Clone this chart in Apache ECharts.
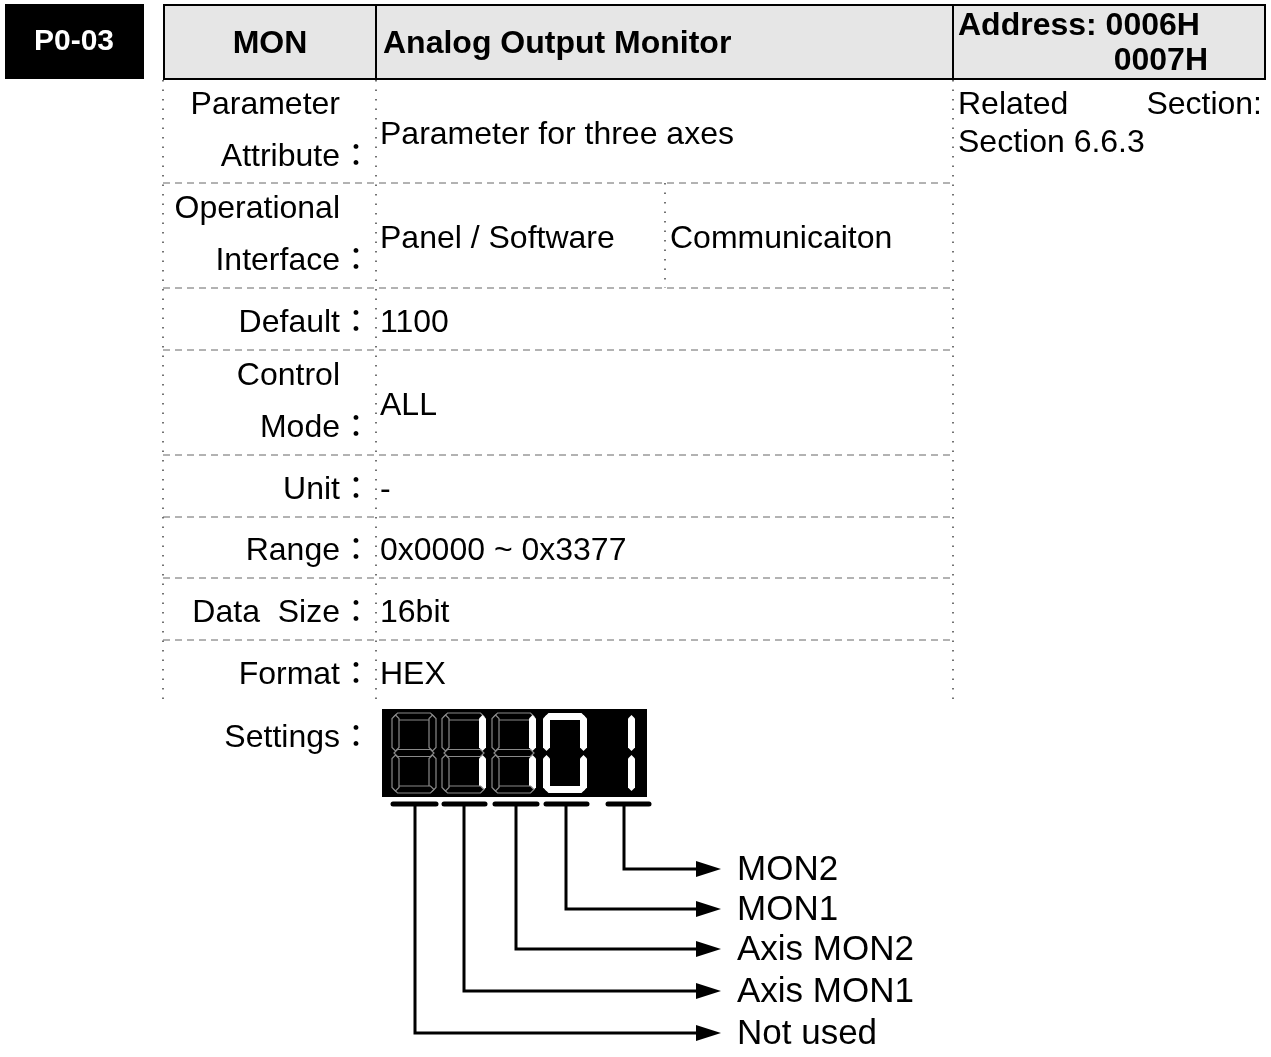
<!DOCTYPE html>
<html>
<head>
<meta charset="utf-8">
<script src="https://cdn.jsdelivr.net/npm/echarts@6/dist/echarts.min.js"></script>
<style>html,body{margin:0;padding:0;background:#fff;}#main{width:1271px;height:1057px;}</style>
</head>
<body>
<div id="main"></div>
<script>
// ---- content ----
const paramCode = 'P0-03';
const paramName = 'MON';
const paramTitle = 'Analog Output Monitor';
const addressLines = ['Address: 0006H', '0007H'];
const rowLabels = [['Parameter', 'Attribute：'], ['Operational', 'Interface：'], ['Default：'], ['Control', 'Mode：'], ['Unit：'], ['Range：'], ['Data  Size：'], ['Format：']];
const rowValues = ['Parameter for three axes', 'Panel / Software', '1100', 'ALL', '-', '0x0000 ~ 0x3377', '16bit', 'HEX'];
const interfaceExtra = 'Communicaiton';
const relatedSection = ['Related', 'Section:', 'Section 6.6.3'];
const settingsLabel = 'Settings：';
const digitLit = [[], ['b', 'c'], ['b', 'c'], ['a', 'b', 'c', 'd', 'e', 'f'], ['b', 'c']];
const digitGhost = [true, true, true, false, false];
const monitorLabels = ['MON2', 'MON1', 'Axis MON2', 'Axis MON1', 'Not used'];

// ---- layout ----
const FONT = '"Liberation Sans", Arial, "Noto Sans CJK JP", sans-serif';
const rowEdges = [80, 183, 288, 350, 455, 517, 578, 640, 702];
const colL = 163, colM = 376, colR = 953, colX = 665;
const g = [];
const headFont = 'bold 32px ' + FONT;

// black code box
g.push({type: 'rect', shape: {x: 5, y: 4, width: 139, height: 75}, style: {fill: '#000'}});
g.push({type: 'text', x: 74, y: 42, style: {text: paramCode, font: 'bold 30px ' + FONT, fill: '#fff', align: 'center', verticalAlign: 'middle'}});
// header
g.push({type: 'rect', shape: {x: 164, y: 5, width: 1101, height: 74}, style: {fill: '#e6e6e6', stroke: '#000', lineWidth: 2}});
g.push({type: 'line', shape: {x1: colM, y1: 5, x2: colM, y2: 79}, style: {stroke: '#000', lineWidth: 2}});
g.push({type: 'line', shape: {x1: colR, y1: 5, x2: colR, y2: 79}, style: {stroke: '#000', lineWidth: 2}});
g.push({type: 'text', x: 270, y: 44, style: {text: paramName, font: headFont, fill: '#000', align: 'center', verticalAlign: 'middle'}});
g.push({type: 'text', x: 383, y: 44, style: {text: paramTitle, font: headFont, fill: '#000', align: 'left', verticalAlign: 'middle'}});
g.push({type: 'text', x: 958, y: 26, style: {text: addressLines[0], font: headFont, fill: '#000', align: 'left', verticalAlign: 'middle'}});
g.push({type: 'text', x: 1208, y: 61, style: {text: addressLines[1], font: headFont, fill: '#000', align: 'right', verticalAlign: 'middle'}});

// grid lines
const dotted = {stroke: '#444', lineWidth: 1.5, lineDash: [1.5, 8]};
const dashed = {stroke: '#666', lineWidth: 1, lineDash: [7, 5]};
[colL, colM, colR].forEach(x => g.push({type: 'line', shape: {x1: x, y1: 80, x2: x, y2: rowEdges[rowEdges.length - 1]}, style: dotted}));
g.push({type: 'line', shape: {x1: colX, y1: rowEdges[1], x2: colX, y2: rowEdges[2]}, style: dotted});
for (let i = 1; i < rowEdges.length - 1; i++) {
  g.push({type: 'line', shape: {x1: colL, y1: rowEdges[i], x2: colR, y2: rowEdges[i]}, style: dashed});
}

// rows
const bodyFont = '32px ' + FONT;
rowLabels.forEach((lab, i) => {
  const mid = (rowEdges[i] + rowEdges[i + 1]) / 2;
  if (lab.length === 2) {
    g.push({type: 'text', x: 340, y: mid - 26, style: {text: lab[0], font: bodyFont, fill: '#000', align: 'right', verticalAlign: 'middle'}});
    g.push({type: 'text', x: 372, y: mid + 26, style: {text: lab[1], font: bodyFont, fill: '#000', align: 'right', verticalAlign: 'middle'}});
  } else {
    g.push({type: 'text', x: 372, y: mid + 4, style: {text: lab[0], font: bodyFont, fill: '#000', align: 'right', verticalAlign: 'middle'}});
  }
  g.push({type: 'text', x: 380, y: mid + 4, style: {text: rowValues[i], font: bodyFont, fill: '#000', align: 'left', verticalAlign: 'middle'}});
});
g.push({type: 'text', x: 670, y: (rowEdges[1] + rowEdges[2]) / 2 + 4, style: {text: interfaceExtra, font: bodyFont, fill: '#000', align: 'left', verticalAlign: 'middle'}});
g.push({type: 'text', x: 958, y: 105, style: {text: relatedSection[0], font: bodyFont, fill: '#000', align: 'left', verticalAlign: 'middle'}});
g.push({type: 'text', x: 1262, y: 105, style: {text: relatedSection[1], font: bodyFont, fill: '#000', align: 'right', verticalAlign: 'middle'}});
g.push({type: 'text', x: 958, y: 143, style: {text: relatedSection[2], font: bodyFont, fill: '#000', align: 'left', verticalAlign: 'middle'}});
g.push({type: 'text', x: 372, y: 738, style: {text: settingsLabel, font: bodyFont, fill: '#000', align: 'right', verticalAlign: 'middle'}});

// seven segment display
g.push({type: 'rect', shape: {x: 382, y: 709, width: 265, height: 88}, style: {fill: '#000'}});
const digitX = [392, 442, 492, 543, 591];
const DW = 44, DH = 80, DY = 713, T = 7;
function hSeg(x0, x1, yc) {
  return [[x0, yc], [x0 + T / 2, yc - T / 2], [x1 - T / 2, yc - T / 2], [x1, yc], [x1 - T / 2, yc + T / 2], [x0 + T / 2, yc + T / 2]];
}
function vSeg(xc, y0, y1) {
  return [[xc, y0], [xc + T / 2, y0 + T / 2], [xc + T / 2, y1 - T / 2], [xc, y1], [xc - T / 2, y1 - T / 2], [xc - T / 2, y0 + T / 2]];
}
function segPoints(X, s) {
  const Y = DY, m = DY + DH / 2;
  switch (s) {
    case 'a': return hSeg(X + 2, X + DW - 2, Y + T / 2);
    case 'g': return hSeg(X + 2, X + DW - 2, m);
    case 'd': return hSeg(X + 2, X + DW - 2, Y + DH - T / 2);
    case 'f': return vSeg(X + T / 2, Y + 2, m - 2);
    case 'b': return vSeg(X + DW - T / 2, Y + 2, m - 2);
    case 'e': return vSeg(X + T / 2, m + 2, Y + DH - 2);
    case 'c': return vSeg(X + DW - T / 2, m + 2, Y + DH - 2);
  }
}
const allSegs = ['a', 'b', 'c', 'd', 'e', 'f', 'g'];
digitX.forEach((X, i) => {
  allSegs.forEach(s => {
    const lit = digitLit[i].indexOf(s) >= 0;
    if (lit) {
      g.push({type: 'polygon', shape: {points: segPoints(X, s)}, style: {fill: '#fff'}});
    } else if (digitGhost[i]) {
      g.push({type: 'polygon', shape: {points: segPoints(X, s)}, style: {fill: '#000', stroke: '#8a8a8a', lineWidth: 1.2}});
    }
  });
});

// bars + leader arrows
const barRanges = [[393, 436], [444, 485], [495, 537], [546, 587], [608, 649]];
const leaderX = [415, 464, 516, 566, 624];
const arrowY = [1033, 991, 949, 909, 869];
barRanges.forEach(r => g.push({type: 'line', shape: {x1: r[0], y1: 804, x2: r[1], y2: 804}, style: {stroke: '#000', lineWidth: 5, lineCap: 'round'}}));
leaderX.forEach((x, i) => {
  const y = arrowY[i];
  g.push({type: 'polyline', shape: {points: [[x, 804], [x, y], [700, y]]}, style: {stroke: '#000', lineWidth: 3, fill: null}});
  g.push({type: 'polygon', shape: {points: [[696, y - 8], [721, y], [696, y + 8]]}, style: {fill: '#000'}});
  g.push({type: 'text', x: 737, y: y + 1, style: {text: monitorLabels[4 - i], font: '35px ' + FONT, fill: '#000', align: 'left', verticalAlign: 'middle'}});
});

const chart = echarts.init(document.getElementById('main'), null, {renderer: 'canvas'});
chart.setOption({backgroundColor: '#fff', animation: false, graphic: {elements: g}});
</script>
</body>
</html>
